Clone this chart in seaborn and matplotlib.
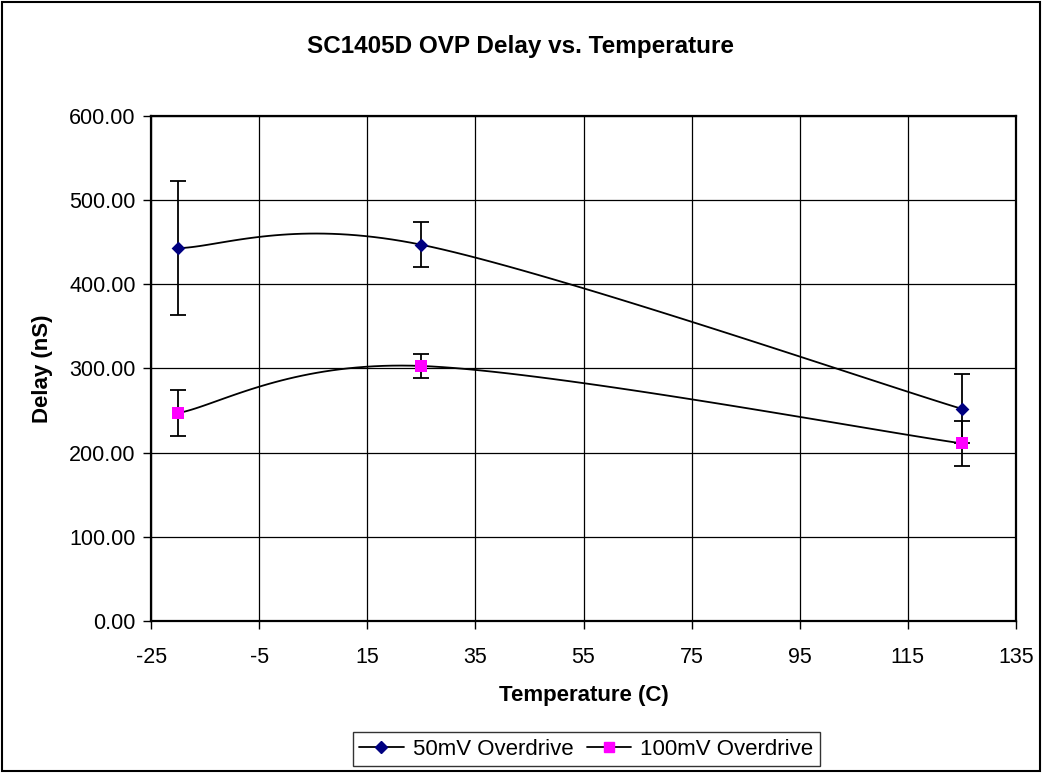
import numpy as np
import pandas as pd
import matplotlib
matplotlib.use("Agg")
import matplotlib.pyplot as plt
from matplotlib.patches import Rectangle
from matplotlib.lines import Line2D
import seaborn as sns

# ---- data ----
temps = [-20, 25, 125]
delay_50mv = [443, 447, 252]
err_50mv = [80, 27, 41]
delay_100mv = [247, 303, 211]
err_100mv = [27, 14, 27]
series_names = ["50mV Overdrive", "100mV Overdrive"]
x_ticks = [-25, -5, 15, 35, 55, 75, 95, 115, 135]
y_ticks = [0, 100, 200, 300, 400, 500, 600]

sns.set_theme(style="white")
plt.rcParams['font.family'] = ['Liberation Sans', 'DejaVu Sans']
plt.rcParams['axes.unicode_minus'] = False
plt.rcParams['text.color'] = 'black'
plt.rcParams['axes.labelcolor'] = 'black'
plt.rcParams['xtick.color'] = 'black'
plt.rcParams['ytick.color'] = 'black'


def excel_smooth(xs, ys, n=40):
    """Excel-style smoothed line (Bezier with 1/6 neighbour tangents)."""
    pts = np.column_stack([xs, ys]).astype(float)
    m = len(pts)
    out = []
    for i in range(m - 1):
        p0 = pts[i]
        p3 = pts[i + 1]
        prev = pts[i - 1] if i > 0 else pts[i]
        nxt = pts[i + 2] if i + 2 < m else pts[i + 1]
        c1 = p0 + (p3 - prev) / 6.0
        c2 = p3 - (nxt - p0) / 6.0
        t = np.linspace(0, 1, n)[:, None]
        seg = ((1 - t) ** 3) * p0 + 3 * ((1 - t) ** 2) * t * c1 + 3 * (1 - t) * t ** 2 * c2 + t ** 3 * p3
        out.append(seg if i == 0 else seg[1:])
    out = np.vstack(out)
    return out[:, 0], out[:, 1]


fig = plt.figure(figsize=(10.42, 7.73), dpi=100)
ax = fig.add_axes([0.145, 0.1966, 0.830, 0.6534])

styles = [
    dict(color="#000080", marker="D", ms=7),
    dict(color="#FF00FF", marker="s", ms=8),
]
datasets = [(delay_50mv, err_50mv), (delay_100mv, err_100mv)]

for (vals, errs), st, name in zip(datasets, styles, series_names):
    sx, sy = excel_smooth(temps, vals)
    sns.lineplot(x=sx, y=sy, ax=ax, color="black", lw=1.3, sort=False, zorder=3)
    ax.errorbar(temps, vals, yerr=errs, fmt="none", ecolor="black", elinewidth=1.3,
                capsize=6, capthick=1.3, zorder=4)
    df = pd.DataFrame({"T": temps, "D": vals})
    sns.scatterplot(data=df, x="T", y="D", ax=ax, marker=st["marker"], color=st["color"],
                    s=st["ms"] ** 2, edgecolor=st["color"], linewidth=0, zorder=5)

ax.set_xlim(-25, 135)
ax.set_ylim(0, 600)
ax.set_xticks(x_ticks)
ax.set_yticks(y_ticks)
ax.set_xticklabels([str(v) for v in x_ticks])
ax.set_yticklabels([f"{v:.2f}" for v in y_ticks])
ax.grid(True, color="black", lw=0.9)
ax.set_axisbelow(True)
for sp in ax.spines.values():
    sp.set_color("black")
    sp.set_linewidth(1.6)
ax.tick_params(axis="both", direction="out", length=6, width=1, color="black",
               labelsize=15.5, labelcolor="black", left=True, bottom=True)
ax.tick_params(axis="x", pad=13)
ax.tick_params(axis="y", pad=5)
ax.set_xlabel("Temperature (C)", fontsize=16, fontweight="bold", labelpad=12, color="black")
ax.set_ylabel("Delay (nS)", fontsize=16, fontweight="bold", labelpad=12, color="black")

fig.text(0.4995, 1 - 53 / 773, "SC1405D OVP Delay vs. Temperature", ha="center", va="baseline",
         fontsize=17.5, fontweight="bold", color="black")

# outer chart border
fig.patches.append(Rectangle((0.002, 0.002), 0.996, 0.996, transform=fig.transFigure,
                             fill=False, edgecolor="black", lw=1.5))

handles = [Line2D([0], [0], color="black", lw=1.3, marker=st["marker"], markersize=st["ms"] * 0.85,
                  markerfacecolor=st["color"], markeredgecolor=st["color"]) for st in styles]
leg = fig.legend(handles, series_names, loc="center", bbox_to_anchor=(0.5625, 0.031), ncol=2,
                 fontsize=16, frameon=True, fancybox=False, edgecolor="black",
                 handlelength=2.0, handletextpad=0.4, columnspacing=0.6, borderpad=0.3)
leg.get_frame().set_linewidth(1.0)
for t in leg.get_texts():
    t.set_color("black")

fig.savefig("out.png", dpi=100)
